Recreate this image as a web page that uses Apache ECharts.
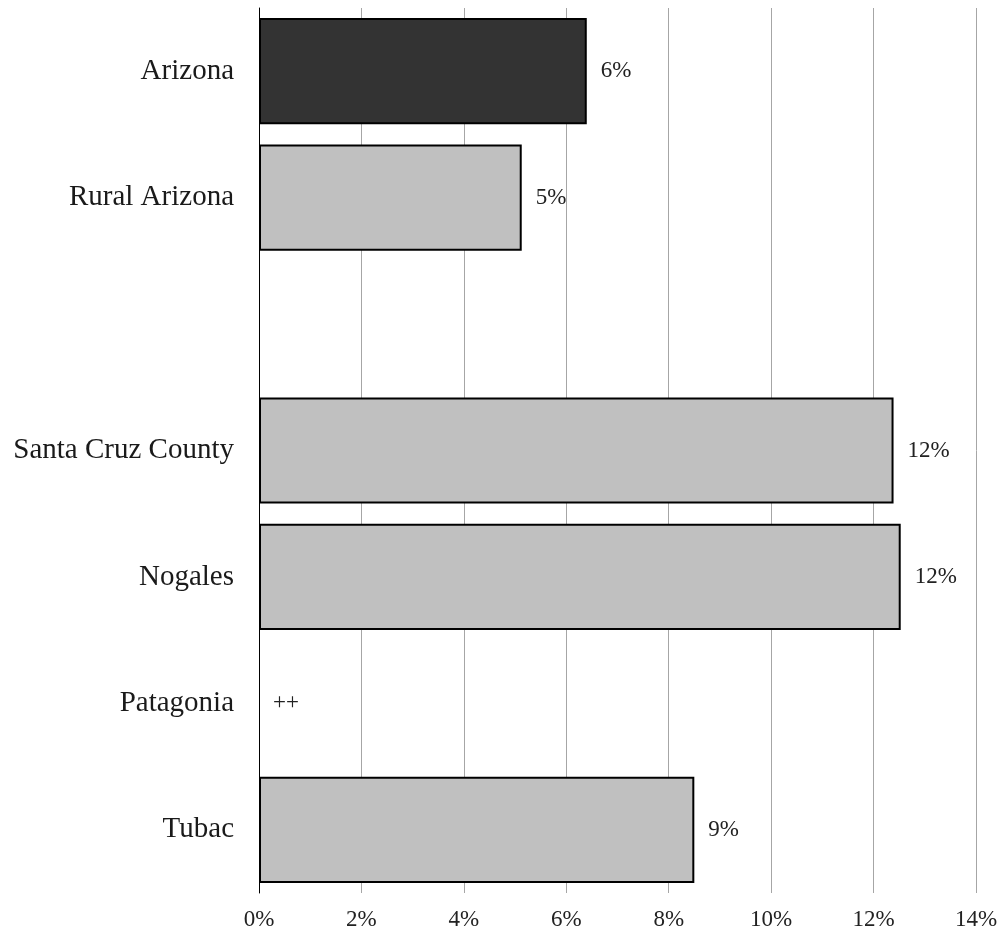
<!DOCTYPE html>
<html>
<head>
<meta charset="utf-8">
<script src="https://cdn.jsdelivr.net/npm/echarts@6/dist/echarts.min.js"></script>
<style>
  html, body { margin: 0; padding: 0; background: #fff; }
  #chart { width: 1006px; height: 935px; }
</style>
</head>
<body>
<div id="chart"></div>
<script>
// categories, top to bottom ('' is the empty spacer row)
var categories = ['Arizona', 'Rural Arizona', '', 'Santa Cruz County', 'Nogales', 'Patagonia', 'Tubac'];
// percent values
var values = [6.4, 5.13, null, 12.39, 12.53, 0, 8.5];
// labels printed next to the bars
var barLabels = ['6%', '5%', '', '12%', '12%', '++', '9%'];
var barColors = ['#333333', '#c0c0c0', '#c0c0c0', '#c0c0c0', '#c0c0c0', '#c0c0c0', '#c0c0c0'];

var serif = '"Liberation Serif", "DejaVu Serif", serif';

var myChart = echarts.init(document.getElementById('chart'));

var seriesData = values.map(function (v, i) {
  return {
    value: v,
    itemStyle: {
      color: barColors[i],
      borderColor: '#000',
      borderWidth: v ? 2 : 0
    }
  };
});

var option = {
  animation: false,
  grid: { left: 259, right: 30, top: 8, bottom: 42, containLabel: false },
  xAxis: {
    type: 'value',
    min: 0,
    max: 14,
    interval: 2,
    axisLine: { show: false },
    axisTick: { show: false },
    axisLabel: {
      formatter: '{value}%',
      fontFamily: serif,
      fontSize: 23,
      color: '#222',
      margin: 15
    },
    splitLine: { show: true, lineStyle: { color: '#a6a6a6', width: 1 } }
  },
  yAxis: {
    type: 'category',
    data: categories,
    inverse: true,
    axisLine: { show: true, lineStyle: { color: '#000', width: 1 } },
    axisTick: { show: false },
    axisLabel: {
      fontFamily: serif,
      fontSize: 29,
      color: '#1a1a1a',
      margin: 25
    }
  },
  series: [{
    type: 'bar',
    data: seriesData,
    barWidth: '84%',
    label: {
      show: true,
      position: 'right',
      distance: 14,
      fontFamily: serif,
      fontSize: 23,
      color: '#222',
      formatter: function (p) { return barLabels[p.dataIndex]; }
    }
  }]
};

myChart.setOption(option);
</script>
</body>
</html>
